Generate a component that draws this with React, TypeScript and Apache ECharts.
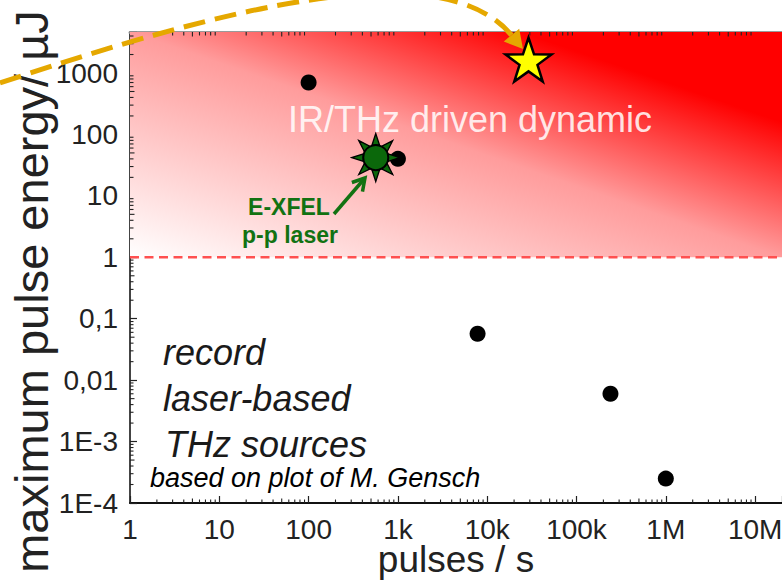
import React, { useEffect, useRef } from 'react';
import * as echarts from 'echarts';

// ---------- data ----------
const xTickLabels = ['1', '10', '100', '1k', '10k', '100k', '1M', '10M'];
const yTickLabels = ['1E-4', '1E-3', '0,01', '0,1', '1', '10', '100', '1000'];
const xFirstExp = 0;
const yFirstExp = -4;
const xRange = [1, 2e7];
const yRange = [1e-4, 4650];
const thresholdEnergy = 1;

// record laser-based THz sources: [pulses/s, max pulse energy µJ]
const recordSources = [
  [100, 700],
  [1000, 40],
  [7800, 0.057],
  [240000, 0.006],
  [1000000, 0.00025],
];
const exfelLaser = [[565, 42]];
const targetSource = [[29000, 1650]];

// ---------- helpers ----------
const FONT = "'Liberation Sans', Arial, Helvetica, sans-serif";

const decadeLabel = (labels: string[], firstExp: number) => (v: number) => {
  const e = Math.log10(v);
  const r = Math.round(e);
  if (Math.abs(e - r) > 1e-6) return '';
  return labels[r - firstExp] ?? '';
};

// minor tick positions (2..9 per decade) on bottom/top/left frame
const minorTicks: number[][] = [];
for (let e = xFirstExp; e < xFirstExp + xTickLabels.length; e++) {
  for (let m = 2; m <= 9; m++) {
    const v = m * Math.pow(10, e);
    if (v < xRange[1]) {
      minorTicks.push([v, yRange[0], 0, m]);
      minorTicks.push([v, yRange[1], 1, m]);
    }
  }
}
for (let e = yFirstExp; e < yFirstExp + yTickLabels.length; e++) {
  for (let m = 2; m <= 9; m++) {
    const v = m * Math.pow(10, e);
    if (v < yRange[1]) minorTicks.push([xRange[0], v, 2, m]);
  }
}

// star path (5 points)
const starPath = (() => {
  const pts: string[] = [];
  for (let i = 0; i < 10; i++) {
    const a = (-90 + 36 * i) * Math.PI / 180;
    const r = i % 2 === 0 ? 50 : 19.5;
    pts.push(`${(50 + r * Math.cos(a)).toFixed(2)} ${(50 + r * Math.sin(a)).toFixed(2)}`);
  }
  return 'path://M' + pts.join(' L') + ' Z';
})();

// sun rays path (8 triangles)
const sunRaysPath = (() => {
  let d = '';
  for (let i = 0; i < 8; i++) {
    const a = (i * 45) * Math.PI / 180;
    const half = 17 * Math.PI / 180;
    const rb = 27;
    const tip = [50 + 50 * Math.cos(a), 50 + 50 * Math.sin(a)];
    const b1 = [50 + rb * Math.cos(a - half), 50 + rb * Math.sin(a - half)];
    const b2 = [50 + rb * Math.cos(a + half), 50 + rb * Math.sin(a + half)];
    d += `M${tip[0].toFixed(2)} ${tip[1].toFixed(2)} L${b1[0].toFixed(2)} ${b1[1].toFixed(2)} L${b2[0].toFixed(2)} ${b2[1].toFixed(2)} Z `;
  }
  return 'path://' + d;
})();

const logAxisBase = {
  type: 'log' as const,
  logBase: 10,
  splitLine: { show: false },
  minorTick: { show: false },
};

const buildOption = () => {
  // arrow geometry for yellow dashed annotation
  const tip = [523, 49];
  const dir = [0.64, 0.77];
  const headLen = 18;
  const base = [tip[0] - headLen * dir[0], tip[1] - headLen * dir[1]];
  const perp = [-dir[1], dir[0]];
  const hw = 10;

  const gTip = [365, 178];
  const gStart = [334, 214];
  const gd = [gTip[0] - gStart[0], gTip[1] - gStart[1]];
  const gl = Math.hypot(gd[0], gd[1]);
  const gu = [gd[0] / gl, gd[1] / gl];
  const gp = [-gu[1], gu[0]];
  const gh = 12;
  const gw = 7;

  return {
    animation: false,
    backgroundColor: '#ffffff',
    grid: { left: 130, right: 0, top: 32, bottom: 77, containLabel: false, outerBoundsMode: 'none' },
    xAxis: [
      {
        ...logAxisBase,
        position: 'bottom',
        min: xRange[0],
        max: xRange[1],
        name: 'pulses / s',
        nameLocation: 'middle',
        nameGap: 38,
        nameMoveOverlap: false,
        nameTextStyle: { fontFamily: FONT, fontSize: 37, color: '#222' },
        axisLine: { show: true, lineStyle: { color: '#111', width: 2 } },
        axisTick: { show: true, inside: true, length: 7, lineStyle: { color: '#222', width: 1.2 } },
        axisLabel: {
          formatter: decadeLabel(xTickLabels, xFirstExp),
          fontFamily: FONT,
          fontSize: 28,
          lineHeight: 22,
          color: '#222',
          margin: 15,
          showMaxLabel: true,
          showMinLabel: true,
          hideOverlap: false,
        },
      },
      {
        ...logAxisBase,
        position: 'top',
        min: xRange[0],
        max: xRange[1],
        axisLine: { show: true, lineStyle: { color: '#9a9a9a', width: 3 } },
        axisTick: { show: true, inside: true, length: 7, lineStyle: { color: '#222', width: 1.2 } },
        axisLabel: { show: false },
      },
    ],
    yAxis: [
      {
        ...logAxisBase,
        position: 'left',
        min: yRange[0],
        max: yRange[1],
        name: 'maximum pulse energy/ µJ',
        nameLocation: 'middle',
        nameGap: 75,
        nameMoveOverlap: false,
        nameTextStyle: { fontFamily: FONT, fontSize: 47, color: '#222', padding: [0, 48, 0, 0] },
        axisLine: { show: true, lineStyle: { color: '#444', width: 2 } },
        axisTick: { show: true, inside: true, length: 7, lineStyle: { color: '#222', width: 1.2 } },
        axisLabel: {
          formatter: decadeLabel(yTickLabels, yFirstExp),
          fontFamily: FONT,
          fontSize: 28,
          color: '#222',
          margin: 12,
          showMaxLabel: true,
          showMinLabel: true,
          hideOverlap: false,
        },
      },
    ],
    series: [
      {
        name: 'IR/THz driven region',
        type: 'scatter',
        data: [],
        z: 1,
        silent: true,
        markArea: {
          silent: true,
          itemStyle: {
            color: new echarts.graphic.LinearGradient(0, 1, 1, 0, [
              { offset: 0, color: '#ffffff' },
              { offset: 0.5, color: '#ff9c9c' },
              { offset: 0.8, color: '#ff0000' },
              { offset: 1, color: '#ff0000' },
            ]),
          },
          data: [[{ coord: [xRange[0], thresholdEnergy] }, { coord: [xRange[1], yRange[1]] }]],
        },
      },
      {
        name: 'threshold',
        type: 'line',
        data: [[xRange[0], thresholdEnergy], [xRange[1], thresholdEnergy]],
        showSymbol: false,
        symbol: 'none',
        z: 2,
        silent: true,
        lineStyle: { color: '#ff5050', width: 2.5, type: [9, 5.5] },
      },
      {
        name: 'minor ticks',
        type: 'custom',
        z: 6,
        silent: true,
        clip: false,
        encode: { x: 0, y: 1 },
        data: minorTicks,
        renderItem: (_params: any, api: any) => {
          const p = api.coord([api.value(0), api.value(1)]);
          const k = api.value(2);
          const m = api.value(3);
          const len = m === 5 ? 4.5 : 3.5;
          let shape;
          if (k === 0) shape = { x1: p[0], y1: p[1], x2: p[0], y2: p[1] - len };
          else if (k === 1) shape = { x1: p[0], y1: p[1], x2: p[0], y2: p[1] + len };
          else shape = { x1: p[0], y1: p[1], x2: p[0] + len, y2: p[1] };
          return { type: 'line', shape, style: { stroke: '#222', lineWidth: 1.1 } };
        },
      },
      {
        name: 'record laser-based THz sources',
        type: 'scatter',
        data: recordSources,
        symbol: 'circle',
        symbolSize: 16,
        z: 3,
        itemStyle: { color: '#000000', opacity: 1 },
      },
      {
        name: 'E-XFEL p-p laser rays',
        type: 'scatter',
        data: exfelLaser,
        symbol: sunRaysPath,
        symbolSize: 48,
        symbolKeepAspect: true,
        z: 4,
        itemStyle: { color: '#0b680b', borderColor: '#000', borderWidth: 1.3, opacity: 1 },
      },
      {
        name: 'E-XFEL p-p laser',
        type: 'scatter',
        data: exfelLaser,
        symbol: 'circle',
        symbolSize: 25,
        z: 5,
        itemStyle: { color: '#0b680b', borderColor: '#000', borderWidth: 2, opacity: 1 },
      },
      {
        name: 'target',
        type: 'scatter',
        data: targetSource,
        symbol: starPath,
        symbolSize: 46,
        symbolKeepAspect: true,
        z: 5,
        itemStyle: { color: '#ffff00', borderColor: '#000', borderWidth: 2.5, opacity: 1 },
      },
    ],
    graphic: [
      {
        type: 'bezierCurve',
        z: 100,
        silent: true,
        shape: {
          x1: 0, y1: 83,
          cpx1: 220, cpy1: 10,
          cpx2: 440, cpy2: -50,
          x2: base[0], y2: base[1],
        },
        style: { stroke: '#e5a800', lineWidth: 5, lineDash: [22, 10], fill: null },
      },
      {
        type: 'polygon',
        z: 100,
        silent: true,
        shape: {
          points: [
            tip,
            [base[0] + perp[0] * hw, base[1] + perp[1] * hw],
            [base[0] - perp[0] * hw, base[1] - perp[1] * hw],
          ],
        },
        style: { fill: '#e5a800' },
      },
      {
        type: 'line',
        z: 100,
        silent: true,
        shape: { x1: gStart[0], y1: gStart[1], x2: gTip[0] - gu[0] * 2, y2: gTip[1] - gu[1] * 2 },
        style: { stroke: '#127212', lineWidth: 3.5 },
      },
      {
        type: 'polyline',
        z: 100,
        silent: true,
        shape: {
          points: [
            [gTip[0] - gu[0] * gh + gp[0] * gw, gTip[1] - gu[1] * gh + gp[1] * gw],
            gTip,
            [gTip[0] - gu[0] * gh - gp[0] * gw, gTip[1] - gu[1] * gh - gp[1] * gw],
          ],
        },
        style: { stroke: '#127212', lineWidth: 3.5, fill: null },
      },
      {
        type: 'text',
        z: 100,
        silent: true,
        style: {
          text: 'IR/THz driven dynamic',
          x: 288, y: 119,
          font: `36px ${FONT}`,
          fill: 'rgba(255,255,255,0.85)',
          align: 'left', verticalAlign: 'middle',
        },
      },
      {
        type: 'text',
        z: 100,
        silent: true,
        style: {
          text: 'E-XFEL',
          x: 289, y: 207,
          font: `bold 23px ${FONT}`,
          fill: '#127212',
          align: 'center', verticalAlign: 'middle',
        },
      },
      {
        type: 'text',
        z: 100,
        silent: true,
        style: {
          text: 'p-p laser',
          x: 290, y: 235,
          font: `bold 23px ${FONT}`,
          fill: '#127212',
          align: 'center', verticalAlign: 'middle',
        },
      },
      {
        type: 'text',
        z: 100,
        silent: true,
        style: {
          text: 'record',
          x: 163, y: 352,
          font: `italic 36px ${FONT}`,
          fill: '#1a1a1a',
          align: 'left', verticalAlign: 'middle',
        },
      },
      {
        type: 'text',
        z: 100,
        silent: true,
        style: {
          text: 'laser-based',
          x: 163, y: 398,
          font: `italic 36px ${FONT}`,
          fill: '#1a1a1a',
          align: 'left', verticalAlign: 'middle',
        },
      },
      {
        type: 'text',
        z: 100,
        silent: true,
        style: {
          text: 'THz sources',
          x: 165, y: 444,
          font: `italic 36px ${FONT}`,
          fill: '#1a1a1a',
          align: 'left', verticalAlign: 'middle',
        },
      },
      {
        type: 'text',
        z: 100,
        silent: true,
        style: {
          text: 'based on plot of M. Gensch',
          x: 150, y: 478,
          font: `italic 27px ${FONT}`,
          fill: '#000000',
          align: 'left', verticalAlign: 'middle',
        },
      },
    ],
  };
};

export default function App() {
  const ref = useRef<HTMLDivElement>(null);
  useEffect(() => {
    if (!ref.current) return;
    const chart = echarts.init(ref.current, null, { renderer: 'svg' });
    chart.setOption(buildOption() as any);
    return () => chart.dispose();
  }, []);
  return (
    <div
      ref={ref}
      style={{ position: 'fixed', left: 0, top: 0, width: 782, height: 580, background: '#fff' }}
    />
  );
}
